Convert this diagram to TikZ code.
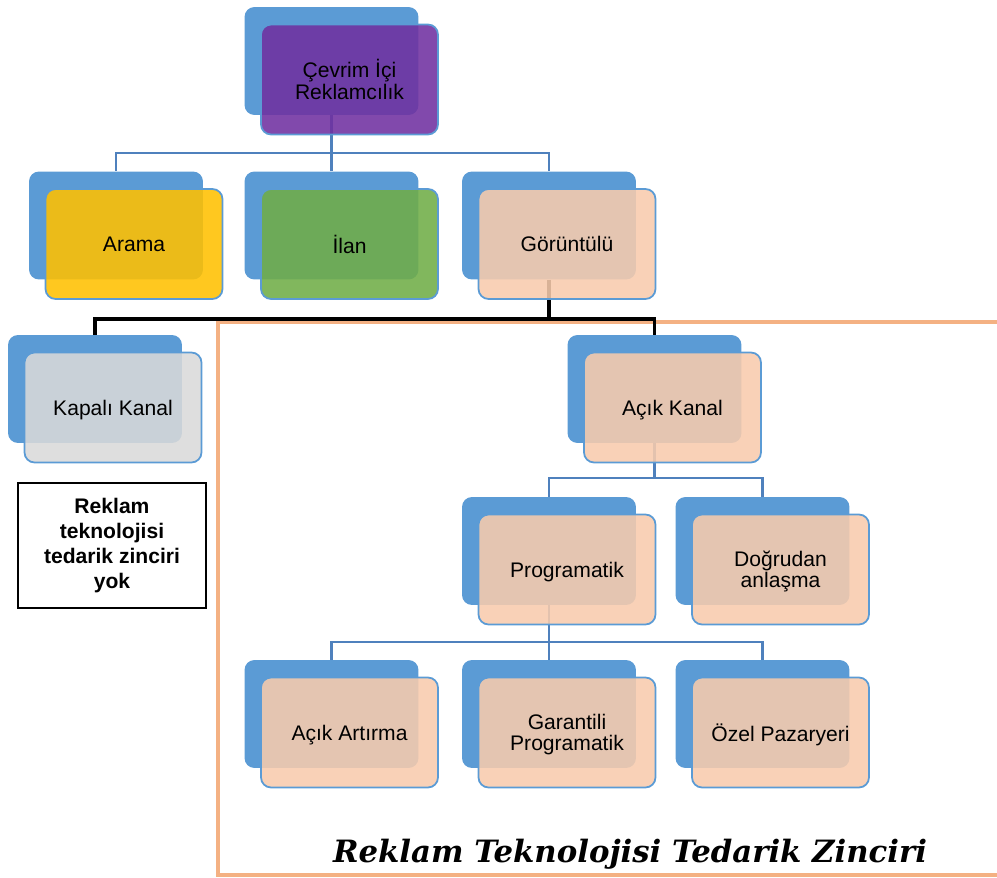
\documentclass[tikz,border=0pt]{standalone}
\usepackage{fontspec}
\setmainfont{Liberation Sans}
\newfontfamily\titlefont{DejaVu Serif}
\usepackage{tikz}
\usetikzlibrary{positioning}
\definecolor{backblue}{RGB}{91,155,213}
\definecolor{linkblue}{RGB}{79,129,189}
\definecolor{adpurple}{RGB}{112,48,160}
\definecolor{adyellow}{RGB}{255,192,0}
\definecolor{adgreen}{RGB}{112,173,71}
\definecolor{adpeach}{RGB}{248,203,173}
\definecolor{adgray}{RGB}{217,217,217}
\definecolor{frameorange}{RGB}{244,177,131}

\begin{document}
\begin{tikzpicture}[
        x=0.02cm, y=-0.02cm,
        back/.style={rounded corners=0.2cm, fill=backblue, minimum width=3.48cm, minimum height=2.16cm},
        front/.style={draw=backblue, line width=1pt, rounded corners=0.2cm, fill opacity=0.88,
                      text opacity=1, minimum width=3.54cm, minimum height=2.2cm, xshift=0.36cm, yshift=-0.37cm,
                      font=\fontsize{12}{12.2}\selectfont, align=center, text depth=0pt},
        link/.style={draw=linkblue, line width=1.2pt},
        blacklink/.style={draw=black, line width=2.2pt},
        note/.style={draw, line width=0.9pt, minimum width=3.76cm, minimum height=2.5cm,
                     font=\fontsize{12}{14.3}\selectfont\bfseries, align=center}
      ]
        \useasboundingbox (0,0) rectangle (997,878);
        % orange frame round the supply chain part
        \draw[frameorange, line width=2.8pt] (1000,322) -- (218,322) -- (218,875) -- (1000,875);
        % back boxes
        \node[back] (top-b) at (331.5,61) {};
        \node[back] (arama-b) at (116,225.5) {};
        \node[back] (ilan-b) at (331.5,225.5) {};
        \node[back] (gorunt-b) at (549,225.5) {};
        \node[back] (kapali-b) at (95,389) {};
        \node[back] (acik-b) at (654.5,389) {};
        \node[back] (prog-b) at (549,551) {};
        \node[back] (dogru-b) at (762.5,551) {};
        \node[back] (artirma-b) at (331.5,714) {};
        \node[back] (garanti-b) at (549,714) {};
        \node[back] (ozel-b) at (762.5,714) {};
        % connectors
        \draw[link] (top-b.south) -- ++(0,38) -| (arama-b.north);
        \draw[link] (top-b.south) -- ++(0,38) -| (ilan-b.north);
        \draw[link] (top-b.south) -- ++(0,38) -| (gorunt-b.north);
        \draw[blacklink] (gorunt-b.south) -- ++(0,39) -| (kapali-b.north);
        \draw[blacklink] (gorunt-b.south) -- ++(0,39) -| (acik-b.north);
        \draw[link] (acik-b.south) -- ++(0,35) -| (prog-b.north);
        \draw[link] (acik-b.south) -- ++(0,35) -| (dogru-b.north);
        \draw[link] (prog-b.south) -- ++(0,37) -| (artirma-b.north);
        \draw[link] (prog-b.south) -- ++(0,37) -| (garanti-b.north);
        \draw[link] (prog-b.south) -- ++(0,37) -| (ozel-b.north);
        % front boxes
        \node[front, fill=adpurple] (top) at (top-b) {Çevrim İçi\\Reklamcılık};
        \node[front, fill=adyellow] (arama) at (arama-b) {Arama};
        \node[front, fill=adgreen] (ilan) at (ilan-b) {İlan};
        \node[front, fill=adpeach] (gorunt) at (gorunt-b) {Görüntülü};
        \node[front, fill=adgray] (kapali) at (kapali-b) {Kapalı Kanal};
        \node[front, fill=adpeach] (acik) at (acik-b) {Açık Kanal};
        \node[front, fill=adpeach] (prog) at (prog-b) {Programatik};
        \node[front, fill=adpeach] (dogru) at (dogru-b) {Doğrudan\\anlaşma};
        \node[front, fill=adpeach] (artirma) at (artirma-b) {Açık Artırma};
        \node[front, fill=adpeach] (garanti) at (garanti-b) {Garantili\\Programatik};
        \node[front, fill=adpeach] (ozel) at (ozel-b) {Özel Pazaryeri};
        \node[note] (yok) at (112,545.5) {Reklam\\teknolojisi\\tedarik zinciri\\yok};
        \node[anchor=base, font=\titlefont\fontsize{17.5}{20}\selectfont\bfseries\itshape] (title) at (630,862)
              {Reklam Teknolojisi Tedarik Zinciri};
      \end{tikzpicture}
\end{document}
